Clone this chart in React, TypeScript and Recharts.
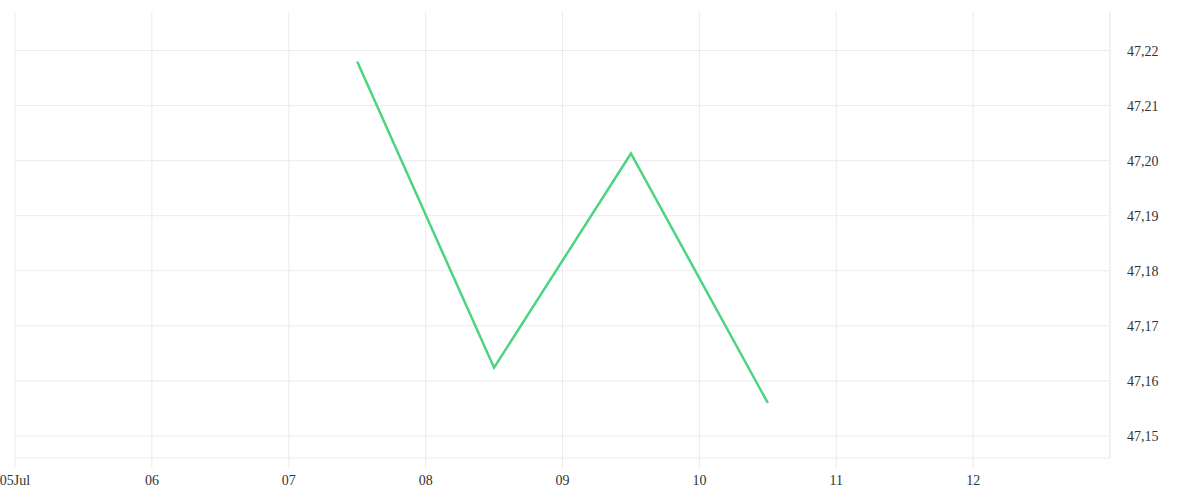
import { LineChart, Line, XAxis, YAxis, CartesianGrid, ReferenceLine } from "recharts"

// days counted from 05 Jul; points sit at midday
const dayOffsets = [2.5, 3.5, 4.5, 5.5]
const prices = [47.218, 47.1624, 47.2013, 47.156]

const xTicks = [0, 1, 2, 3, 4, 5, 6, 7]
const xTickLabels = ["05Jul", "06", "07", "08", "09", "10", "11", "12"]
const yTicks = [47.15, 47.16, 47.17, 47.18, 47.19, 47.2, 47.21, 47.22]

const data = dayOffsets.map((d, i) => ({ day: d, price: prices[i] }))

const gridColor = "#ebebeb"
const textColor = "#333"

export default function App() {
  return (
    <div style={{ position: "absolute", left: 0, top: 0, width: 1200, height: 500 }}>
      <LineChart width={1200} height={500} data={data} margin={{ top: 12, right: 0, bottom: 0, left: 15 }}>
        <CartesianGrid stroke={gridColor} horizontal={false} />
        {/* horizontal grid only at the price ticks, no line on the top edge */}
        {yTicks.map((t) => (
          <ReferenceLine key={t} y={t} stroke={gridColor} ifOverflow="hidden" />
        ))}
        <XAxis
          dataKey="day"
          type="number"
          domain={[0, 8]}
          ticks={xTicks}
          tickFormatter={(v: number) => xTickLabels[v] ?? ""}
          height={42}
          stroke={gridColor}
          tickSize={10}
          tickMargin={7}
          tick={{ fill: textColor, fontSize: 14 }}
          interval={0}
        />
        <YAxis
          orientation="right"
          domain={[47.146, 47.227]}
          ticks={yTicks}
          tickFormatter={(v: number) => v.toFixed(2).replace(".", ",")}
          width={90}
          stroke={gridColor}
          tickLine={false}
          tickMargin={11}
          tick={{ fill: textColor, fontSize: 14 }}
          allowDataOverflow
        />
        <Line
          type="linear"
          dataKey="price"
          stroke="#4cd480"
          strokeWidth={2.5}
          dot={false}
          isAnimationActive={false}
        />
      </LineChart>
    </div>
  )
}
